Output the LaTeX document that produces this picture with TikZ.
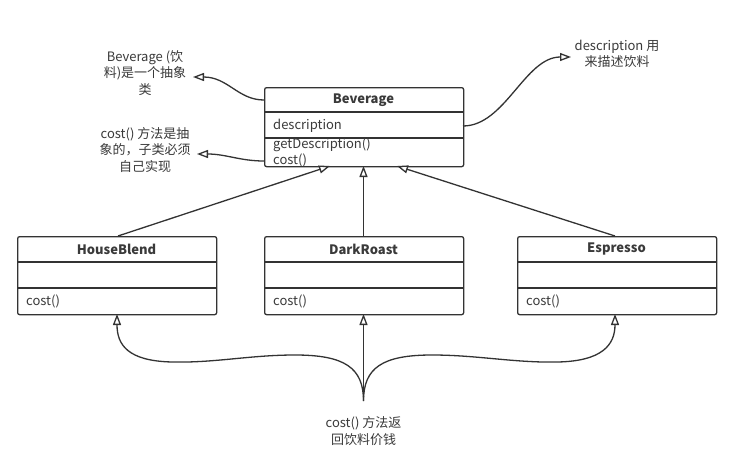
\documentclass[tikz,border=0pt]{standalone}
\usepackage{fontspec}
\setmainfont{Noto Sans CJK SC}
\usetikzlibrary{arrows.meta}
\definecolor{ln}{HTML}{333333}
\definecolor{tx}{HTML}{3A3A3A}
\begin{document}
\begin{tikzpicture}[x=1pt,y=-1pt,
  cls/.style={draw=ln,line width=1.3pt,rounded corners=2pt,minimum width=199pt,inner sep=0pt,anchor=north west},
  sep/.style={draw=ln,line width=1.3pt},
  title/.style={font=\fontsize{13}{15}\selectfont\bfseries,text=tx,inner sep=0pt},
  member/.style={font=\fontsize{13}{15}\selectfont,text=tx,inner sep=0pt,anchor=west},
  note/.style={font=\fontsize{13}{16.5}\selectfont,text=tx,align=center,inner sep=0pt},
  inh/.style={draw=ln,line width=1.3pt,-{Triangle[fill=white,length=11pt,width=8pt,line width=1.3pt]}},
  link/.style={draw=ln,line width=1.3pt}]
\useasboundingbox (0,0) rectangle (732,463);
\fill[white] (0,0) rectangle (732,463);
% Beverage
\node[cls,minimum height=79pt] (bev) at (264,87) {};
\draw[sep] (264,112) -- (463,112);
\draw[sep] (264,138) -- (463,138);
\node[title] (bevt) at (363.5,100) {Beverage};
\node[member] (bevd) at (273,126) {description};
\node[member] (bevg) at (273,145) {getDescription()};
\node[member] (bevc) at (273,160) {cost()};
% HouseBlend
\node[cls,minimum height=78pt] (hb) at (17,236) {};
\draw[sep] (17,262) -- (216,262);
\draw[sep] (17,288) -- (216,288);
\node[title] (hbt) at (116.5,249) {HouseBlend};
\node[member] (hbc) at (26,301) {cost()};
% DarkRoast
\node[cls,minimum height=78pt] (dr) at (264,236) {};
\draw[sep] (264,262) -- (463,262);
\draw[sep] (264,288) -- (463,288);
\node[title] (drt) at (363.5,249) {DarkRoast};
\node[member] (drc) at (273,301) {cost()};
% Espresso
\node[cls,minimum height=78pt] (es) at (517,236) {};
\draw[sep] (517,262) -- (716,262);
\draw[sep] (517,288) -- (716,288);
\node[title] (est) at (616.5,249) {Espresso};
\node[member] (esc) at (526,301) {cost()};
% inheritance
\coordinate (hbtop) at (118,236);
\coordinate (drtop) at (363.5,236);
\coordinate (estop) at (615,236);
\coordinate (bevl) at (330,166);
\coordinate (bevm) at (363.5,166);
\coordinate (bevr) at (397,166);
\draw[inh] (hbtop) -- (bevl);
\draw[inh] (drtop) -- (bevm);
\draw[inh] (estop) -- (bevr);
% notes
\node[note] (n1) at (145,73) {Beverage (饮\\料)是一个抽象\\类};
\node[note] (n2) at (145,150) {cost() 方法是抽\\象的，子类必须\\自己实现};
\node[note] (n3) at (617,54) {description 用\\来描述饮料};
\node[note] (n4) at (363.5,431) {cost() 方法返\\回饮料价钱};
\coordinate (a1s) at (264,100);
\coordinate (a1e) at (193,77);
\coordinate (a2s) at (264,161);
\coordinate (a2e) at (197,154);
\coordinate (a3s) at (463,126);
\coordinate (a3e) at (571,57);
\draw[inh] (a1s) .. controls (238,100) and (228,77) .. (a1e);
\draw[inh] (a2s) .. controls (240,161) and (226,154) .. (a2e);
\draw[inh] (a3s) .. controls (505,126) and (525,57) .. (a3e);
% bottom
\coordinate (bot) at (363.5,401);
\coordinate (hbb) at (117,314);
\coordinate (drb) at (363.5,314);
\coordinate (esb) at (615,314);
\draw[inh] (bot) -- (drb);
\draw[inh] (bot) .. controls (363.5,368) and (345,355) .. (295,355)
   .. controls (250,355) and (215,363) .. (172,362)
   .. controls (128,361) and (117,345) .. (hbb);
\draw[inh] (bot) .. controls (363.5,368) and (382,355) .. (432,355)
   .. controls (477,355) and (515,363) .. (558,362)
   .. controls (602,361) and (615,345) .. (esb);
\end{tikzpicture}
\end{document}
